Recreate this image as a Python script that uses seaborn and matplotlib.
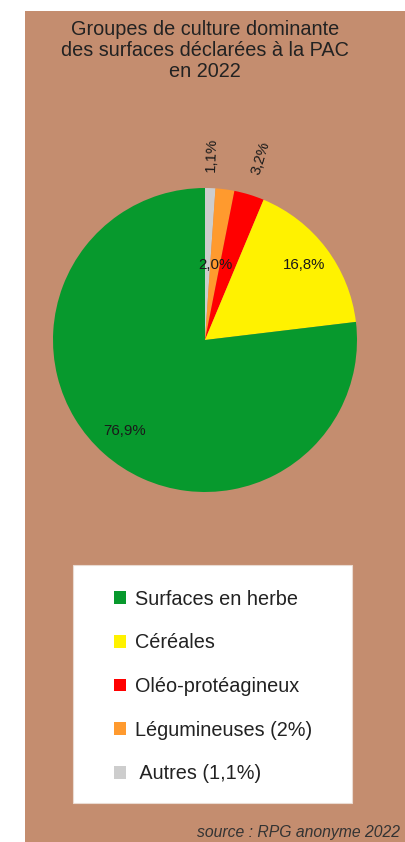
import numpy as np
import matplotlib
matplotlib.use("Agg")
import matplotlib.pyplot as plt
from matplotlib.patches import Rectangle, Patch
import seaborn as sns

# ---- data ----
categories = ["Autres", "Légumineuses", "Oléo-protéagineux", "Céréales", "Surfaces en herbe"]
values = [1.1, 2.0, 3.2, 16.8, 76.9]
legend_labels = ["Surfaces en herbe", "Céréales", "Oléo-protéagineux", "Légumineuses (2%)", " Autres (1,1%)"]
colors = ["#CDCDCD", "#FF9A2E", "#FF0000", "#FFF200", "#07992D"]
title_lines = ["Groupes de culture dominante", "des surfaces déclarées à la PAC", "en 2022"]
source_text = "source : RPG anonyme 2022"

sns.set_style("white")
plt.rcParams["font.family"] = ["Liberation Sans", "DejaVu Sans"]

W, H = 406, 842
fig = plt.figure(figsize=(W / 100, H / 100), dpi=100)
fig.patch.set_facecolor("white")

brown = "#C48D6F"
fig.patches.append(Rectangle((25 / W, 0), 1 - 25 / W, 1 - 11 / H, transform=fig.transFigure,
                             facecolor=brown, edgecolor="none", zorder=-5))

# title
for line, yb in zip(title_lines, [35, 56, 77]):
    fig.text(205 / W, 1 - yb / H, line, ha="center", va="baseline", fontsize=14.3, color="#222222")

# pie
cx, cy, r = 205, 340, 152
ax = fig.add_axes([(cx - r) / W, (H - cy - r) / H, 2 * r / W, 2 * r / H])
ax.set_facecolor("none")
ax.set_zorder(1)
wedges, _ = ax.pie(values, colors=colors, startangle=90, counterclock=False,
                   wedgeprops=dict(linewidth=0))
ax.set_xlim(-1, 1)
ax.set_ylim(-1, 1)
ax.set_aspect("equal")
ax.axis("off")

label_cfg = {
    "Autres": (1.22, True),
    "Légumineuses": (0.50, False),
    "Oléo-protéagineux": (1.25, True),
    "Céréales": (0.82, False),
    "Surfaces en herbe": (0.80, False),
}
for w, cat, v in zip(wedges, categories, values):
    mid = np.deg2rad((w.theta1 + w.theta2) / 2)
    d, rot = label_cfg[cat]
    txt = f"{v:.1f}%".replace(".", ",")
    ax.text(d * np.cos(mid), d * np.sin(mid), txt, ha="center", va="center",
            fontsize=10.8, color="#1a1a1a",
            rotation=np.rad2deg(mid) if rot else 0, rotation_mode="anchor")

# legend box
fig.patches.append(Rectangle((73 / W, 1 - 803 / H), 279 / W, 238 / H, transform=fig.transFigure,
                             facecolor="white", edgecolor="#EADBD2", linewidth=0.8, zorder=1))
handles = [Patch(facecolor=w.get_facecolor(), edgecolor="none") for w in wedges][::-1]
leg = fig.legend(handles, legend_labels, loc="center left",
                 bbox_to_anchor=(114 / W, 1 - 686.5 / H), frameon=False,
                 fontsize=14.3, handlelength=0.6, handleheight=0.6, handletextpad=0.45,
                 labelspacing=1.24, borderpad=0, borderaxespad=0)
for t in leg.get_texts():
    t.set_color("#222222")
leg.set_zorder(2)

fig.text(197 / W, 1 - 832 / H, source_text, ha="left", va="center", fontsize=11.3,
         style="italic", color="#333333")

fig.savefig("out.png", dpi=100)
